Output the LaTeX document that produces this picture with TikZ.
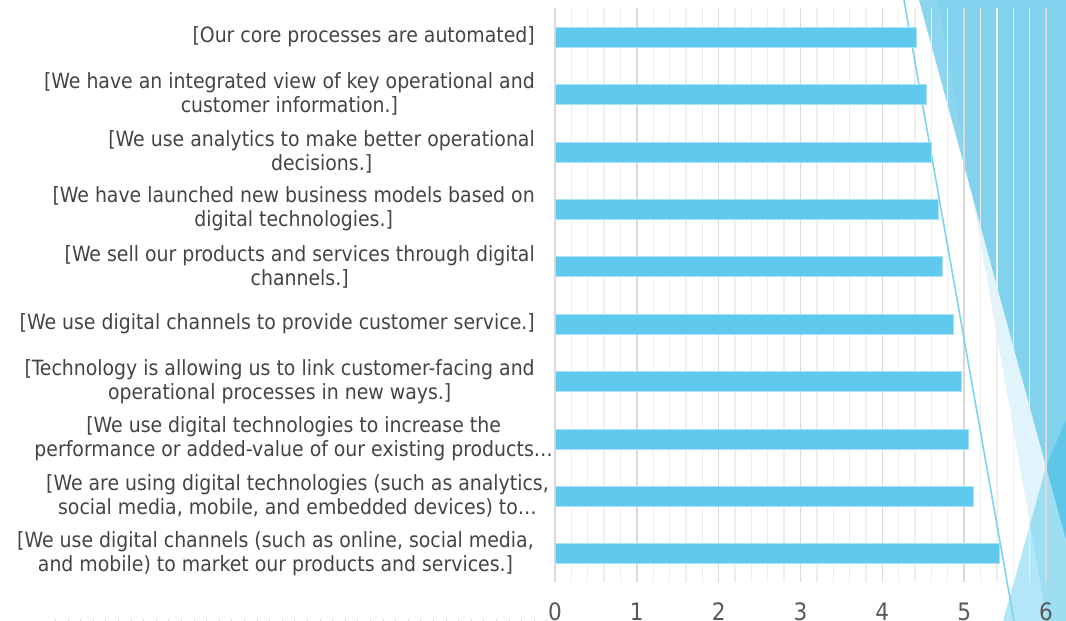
\documentclass[tikz,border=0pt]{standalone}
\usepackage{fontspec}
\setmainfont{DejaVu Sans Condensed}
\usepackage{tikz}
\usetikzlibrary{positioning}

\definecolor{barra}{HTML}{5FCAEE}
\definecolor{rejilla}{HTML}{D9D9D9}
\definecolor{rejillasec}{HTML}{EEEEEE}
\definecolor{texto}{HTML}{444444}
\definecolor{eje}{HTML}{595959}
\definecolor{facetaA}{HTML}{8DD5EF}
\definecolor{facetaB}{HTML}{4DBFE6}
\definecolor{facetaC}{RGB}{24,178,227}
\definecolor{linea}{HTML}{7FD3F0}

\begin{document}
\begin{tikzpicture}[
        x=1pt, y=-1pt,
        barra/.style={fill=barra, draw=barra!55!white, line width=0.6pt},
        mayor/.style={rejilla, line width=1.4pt},
        menor/.style={rejillasec, line width=1.4pt},
        etiqueta/.style={anchor=east, align=center, inner sep=0pt, text=texto,
            font=\fontsize{21}{24}\selectfont},
        marca/.style={anchor=base, inner sep=0pt, text=eje, font=\fontsize{24}{28}\selectfont},
        pie/.style={rejilla, line width=3pt, dash pattern=on 1pt off 11.6pt}
    ]
    \useasboundingbox (0,0) rectangle (1066,621);
    \def\ux{81.83} % pixeles por unidad

    % Fondo (tema)
    \fill[facetaA] (919,0) -- (1066,0) -- (1066,540) -- cycle;
    \fill[facetaB, opacity=0.17] (938,0) -- (1066,0) -- (1066,621) -- (1047,621) -- cycle;
    \fill[facetaC, opacity=0.33] (1066,420) -- (1046,467) -- (1003,621) -- (1066,621) -- cycle;
    \draw[pie] (55,620) -- (548,620);

    % Rejilla y ejes
    \foreach \k in {0,...,30}
        \draw[menor] ({555+\k*\ux/5},8) -- ++(0,574);
    \foreach \k in {0,...,6} {
        \draw[mayor] ({555+\k*\ux},8) -- ++(0,574);
        \node[marca] (t\k) at ({555+\k*\ux},620.5) {\k};
    }
    \draw[linea, line width=1.6pt] (904,0) -- (1014,621);

    % Barras
    \foreach \v [count=\i] in {4.42,4.54,4.60,4.68,4.73,4.87,4.97,5.05,5.11,5.43}
        \draw[barra] (555,{37+57.4*(\i-1)-10}) rectangle ({555+\v*\ux},{37+57.4*(\i-1)+10});

    % Etiquetas
    \foreach \xr/\txt [count=\i] in {
        535/{[Our core processes are automated]},
        535/{[We have an integrated view of key operational and\\customer information.]},
        535/{[We use analytics to make better operational\\decisions.]},
        535/{[We have launched new business models based on\\digital technologies.]},
        535/{[We sell our products and services through digital\\channels.]},
        535/{[We use digital channels to provide customer service.]},
        535/{[Technology is allowing us to link customer-facing and\\operational processes in new ways.]},
        553/{[We use digital technologies to increase the\\performance or added-value of our existing products…},
        549/{[We are using digital technologies (such as analytics,\\social media, mobile, and embedded devices) to…},
        534/{[We use digital channels (such as online, social media,\\and mobile) to market our products and services.]}}
        \node[etiqueta] (e\i) at (\xr,{37+57.4*(\i-1)}) {\txt};

\end{tikzpicture}
\end{document}
